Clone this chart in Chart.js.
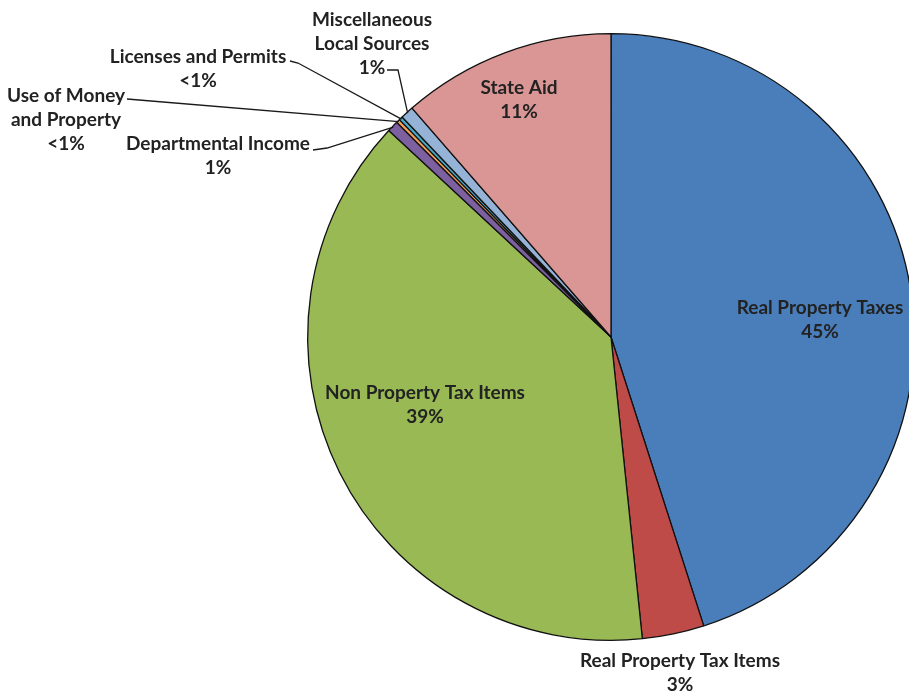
<!DOCTYPE html>
<html>
<head>
<meta charset="utf-8">
<title>Revenue sources</title>
<script src="https://cdn.jsdelivr.net/npm/chart.js@4.4.0/dist/chart.umd.min.js"></script>
<style>
    html, body { margin: 0; padding: 0; background: #fff; overflow: hidden; }
    #wrap { position: relative; width: 920px; height: 696px; }
</style>
</head>
<body>
<div id="wrap"><canvas id="pie"></canvas></div>
<script>
// slices, clockwise from 12 o'clock
var categories = [
    ["Real Property Taxes"],
    ["Real Property Tax Items"],
    ["Non Property Tax Items"],
    ["Departmental Income"],
    ["Use of Money", "and Property"],
    ["Licenses and Permits"],
    ["Miscellaneous", "Local Sources"],
    ["State Aid"]
];
var shares = [45.1, 3.3, 38.6, 0.6, 0.2, 0.2, 0.7, 11.4];   // percent of revenue
var sliceColors = ["#4a7ebb", "#be4b48", "#98b954", "#7d60a0", "#f59d56", "#46aac5", "#95b3d7", "#d99694"];

// label placement: centre of first text line, plus leader line points for outside labels
var labelSpots = [
    { x: 820, y: 308 },
    { x: 680, y: 661 },
    { x: 425, y: 393 },
    { x: 218, y: 144, line: [[313, 150], [327, 148]] },
    { x: 66,  y: 96,  line: [[127, 99]] },
    { x: 198, y: 57,  line: [[290, 61], [298, 63]] },
    { x: 372, y: 20,  line: [[387, 70], [398, 70]] },
    { x: 519, y: 88 }
];

function pctText(v) {
    var total = shares.reduce(function(a, b) { return a + b; }, 0);
    var p = v / total * 100;
    return p < 0.5 ? "<1%" : Math.round(p) + "%";
}

var sliceLabels = {
    id: "sliceLabels",
    afterDatasetsDraw: function(chart) {
        var ctx = chart.ctx;
        var meta = chart.getDatasetMeta(0);
        ctx.save();
        for (var i = 0; i < meta.data.length; i++) {
            var arc = meta.data[i];
            var spot = labelSpots[i];
            if (spot.line) {
                var mid = (arc.startAngle + arc.endAngle) / 2;
                var ex = arc.x + Math.cos(mid) * (arc.outerRadius - 1);
                var ey = arc.y + Math.sin(mid) * (arc.outerRadius - 1);
                ctx.beginPath();
                ctx.moveTo(spot.line[0][0], spot.line[0][1]);
                for (var k = 1; k < spot.line.length; k++) {
                    ctx.lineTo(spot.line[k][0], spot.line[k][1]);
                }
                ctx.lineTo(ex, ey);
                ctx.strokeStyle = "#1a1a1a";
                ctx.lineWidth = 1.3;
                ctx.stroke();
            }
            var lines = categories[i].concat([pctText(shares[i])]);
            ctx.font = "bold 19px Lato";
            ctx.fillStyle = "#222";
            ctx.textAlign = "center";
            ctx.textBaseline = "middle";
            for (var j = 0; j < lines.length; j++) {
                ctx.fillText(lines[j], spot.x, spot.y + j * 24);
            }
        }
        ctx.restore();
    }
};

new Chart(document.getElementById("pie"), {
    type: "pie",
    data: {
        labels: categories,
        datasets: [{
            data: shares,
            backgroundColor: sliceColors,
            borderColor: "#111",
            borderWidth: 1.3
        }]
    },
    options: {
        responsive: true,
        maintainAspectRatio: false,
        animation: false,
        layout: { padding: { left: 307, right: 5, top: 33, bottom: 55 } },
        plugins: {
            legend: { display: false },
            tooltip: { enabled: false }
        }
    },
    plugins: [sliceLabels]
});
</script>
</body>
</html>
